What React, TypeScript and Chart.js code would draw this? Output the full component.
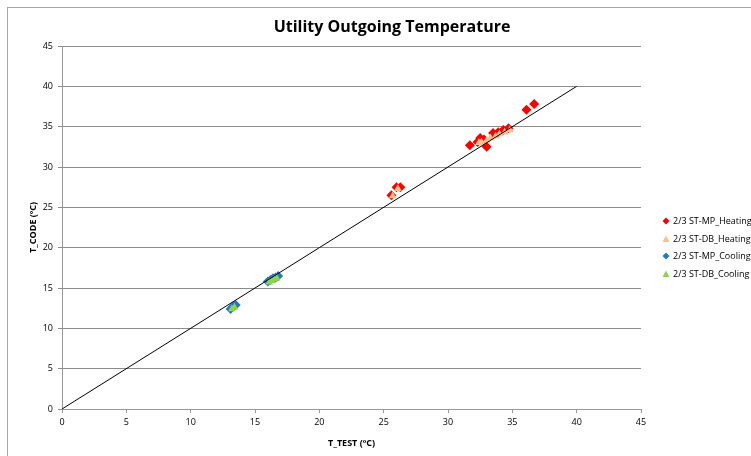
import React, { useEffect, useRef } from "react";
import { Chart, registerables } from "chart.js";

Chart.register(...registerables);

const TITLE = "Utility Outgoing Temperature";
const X_TITLE = "T_TEST (ºC)";
const Y_TITLE = "T_CODE (ºC)";
const SERIES_NAMES = ["2/3 ST-MP_Heating", "2/3 ST-DB_Heating", "2/3 ST-MP_Cooling", "2/3 ST-DB_Cooling"];

const mpHeatingX = [25.6, 26.0, 26.3, 31.7, 32.3, 32.5, 32.8, 33.0, 33.5, 33.9, 34.3, 34.7, 36.1, 36.7];
const mpHeatingY = [26.5, 27.5, 27.5, 32.7, 33.1, 33.6, 33.4, 32.5, 34.2, 34.3, 34.6, 34.8, 37.1, 37.8];

const dbHeatingX = [25.7, 26.1, 32.6, 33.0, 33.3, 33.7, 34.0, 34.4, 34.8, 32.4];
const dbHeatingY = [26.4, 27.3, 33.1, 33.3, 33.6, 33.8, 34.1, 34.3, 34.6, 33.0];

const mpCoolingX = [13.1, 13.3, 13.5, 16.0, 16.2, 16.4, 16.6, 16.8];
const mpCoolingY = [12.4, 12.7, 12.9, 15.8, 16.0, 16.2, 16.3, 16.5];

const dbCoolingX = [13.2, 13.4, 16.1, 16.3, 16.5, 16.7];
const dbCoolingY = [12.4, 12.6, 15.7, 15.9, 16.1, 16.2];

const refLineX = [0, 40];
const refLineY = [0, 40];

const AXIS_MIN = 0;
const AXIS_MAX = 45;
const AXIS_STEP = 5;

const pts = (xs: number[], ys: number[]) => xs.map((x, i) => ({ x, y: ys[i] }));

const FONT = "'Open Sans', 'DejaVu Sans', sans-serif";

export default function App() {
  const ref = useRef<HTMLCanvasElement | null>(null);
  useEffect(() => {
    document.documentElement.style.overflow = "hidden";
    document.body.style.overflow = "hidden";
    const canvas = ref.current!;
    const overlay = {
      id: "overlay",
      afterDraw(chart: any) {
        const ctx = chart.ctx;
        ctx.save();
        ctx.fillStyle = "#000";
        ctx.font = `bold 16px ${FONT}`;
        ctx.textAlign = "center";
        ctx.textBaseline = "middle";
        ctx.fillText(TITLE, 384, 19);
        const rows = [213, 231, 248, 266];
        ctx.font = `9px ${FONT}`;
        ctx.textAlign = "left";
        chart.data.datasets.forEach((ds: any, i: number) => {
          if (i >= SERIES_NAMES.length) return;
          const y = rows[i];
          const x = 658;
          ctx.fillStyle = ds.backgroundColor;
          ctx.beginPath();
          if (ds.pointStyle === "rectRot") {
            ctx.moveTo(x, y - 3.5);
            ctx.lineTo(x + 3.5, y);
            ctx.lineTo(x, y + 3.5);
            ctx.lineTo(x - 3.5, y);
          } else {
            ctx.moveTo(x, y - 3.5);
            ctx.lineTo(x + 3.5, y + 3);
            ctx.lineTo(x - 3.5, y + 3);
          }
          ctx.closePath();
          ctx.fill();
          ctx.fillStyle = "#000";
          ctx.fillText(SERIES_NAMES[i], 665, y + 0.5);
        });
        ctx.restore();
      },
    };
    const chart = new Chart(canvas, {
      type: "scatter",
      data: {
        datasets: [
          {
            label: SERIES_NAMES[0],
            data: pts(mpHeatingX, mpHeatingY),
            pointStyle: "rectRot",
            radius: 5,
            backgroundColor: "#ff0000",
            borderColor: "#ff0000",
            borderWidth: 0,
            order: 4,
          },
          {
            label: SERIES_NAMES[1],
            data: pts(dbHeatingX, dbHeatingY),
            pointStyle: "triangle",
            radius: 4.5,
            backgroundColor: "#fac090",
            borderColor: "#fac090",
            borderWidth: 0,
            order: 3,
          },
          {
            label: SERIES_NAMES[2],
            data: pts(mpCoolingX, mpCoolingY),
            pointStyle: "rectRot",
            radius: 5,
            backgroundColor: "#1f78c8",
            borderColor: "#1f78c8",
            borderWidth: 0,
            order: 2,
          },
          {
            label: SERIES_NAMES[3],
            data: pts(dbCoolingX, dbCoolingY),
            pointStyle: "triangle",
            radius: 4.5,
            backgroundColor: "#92d050",
            borderColor: "#92d050",
            borderWidth: 0,
            order: 1,
          },
          {
            type: "line",
            label: "y=x",
            data: pts(refLineX, refLineY),
            borderColor: "#000",
            borderWidth: 1,
            pointRadius: 0,
            showLine: true,
            fill: false,
            order: 0,
          } as any,
        ],
      },
      options: {
        animation: false,
        responsive: false,
        devicePixelRatio: 1,
        layout: { padding: { top: 38, right: 110, left: 0, bottom: 0 } },
        plugins: {
          legend: { display: false },
          title: { display: false },
          tooltip: { enabled: false },
        },
        scales: {
          x: {
            type: "linear",
            min: AXIS_MIN,
            max: AXIS_MAX,
            afterFit: (s: any) => {
              s.height = 47;
            },
            ticks: {
              stepSize: AXIS_STEP,
              padding: 4,
              color: "#000",
              font: { family: FONT, size: 9 },
            },
            grid: { drawOnChartArea: false, drawTicks: true, tickLength: 4, color: "#999" },
            border: { display: true, color: "#999", width: 1 },
            title: {
              display: true,
              text: X_TITLE,
              color: "#000",
              font: { family: FONT, size: 9, weight: "bold" },
              padding: { top: 0, bottom: 7.6 },
            },
          },
          y: {
            type: "linear",
            min: AXIS_MIN,
            max: AXIS_MAX,
            afterFit: (s: any) => {
              s.width = 54;
            },
            ticks: {
              stepSize: AXIS_STEP,
              padding: 5,
              color: "#000",
              font: { family: FONT, size: 9 },
            },
            grid: { drawOnChartArea: true, drawTicks: true, tickLength: 4, color: "#8c8c8c" },
            border: { display: true, color: "#999", width: 1 },
            title: {
              display: true,
              text: Y_TITLE,
              color: "#000",
              font: { family: FONT, size: 9, weight: "bold" },
              padding: { top: 19.6, bottom: 0 },
            },
          },
        },
      },
      plugins: [overlay],
    });
    return () => chart.destroy();
  }, []);
  return (
    <div
      style={{
        position: "absolute",
        left: 7,
        top: 7,
        width: 743,
        height: 448,
        borderLeft: "1px solid #a6a6a6",
        borderTop: "1px solid #a6a6a6",
      }}
    >
      <canvas ref={ref} width={743} height={448} style={{ display: "block" }} />
    </div>
  );
}
